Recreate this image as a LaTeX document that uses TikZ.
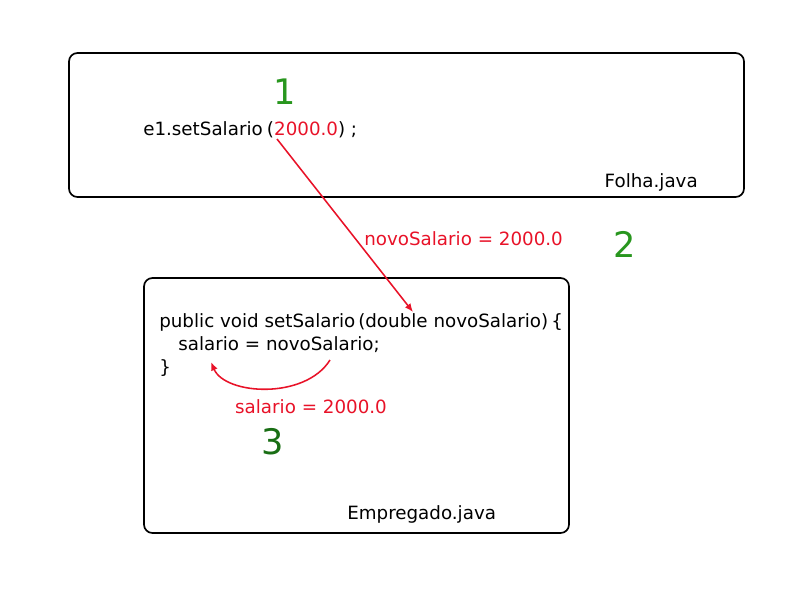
\documentclass[tikz,border=0pt]{standalone}
\usepackage{fontspec}
\setmainfont{DejaVu Sans}
\usetikzlibrary{positioning,arrows.meta}
\definecolor{cred}{RGB}{232,18,40}
\definecolor{cgreen}{RGB}{40,150,30}
\definecolor{cdgreen}{RGB}{25,110,20}
\tikzset{
  arquivo/.style={draw,line width=1.2pt,rounded corners=6pt},
  codigo/.style={anchor=west,inner sep=0pt,font=\fontsize{13}{15}\selectfont},
  valor/.style={text=cred,inner sep=0pt,font=\fontsize{13}{15}\selectfont},
  passo/.style={text=cgreen,inner sep=0pt,font=\fontsize{25}{28}\selectfont},
  chamada/.style={draw=cred,line width=1.1pt,-{Latex[length=6pt,width=5pt]}},
}
\begin{document}
\begin{tikzpicture}[x=0.025cm,y=-0.025cm]
\useasboundingbox (0,0) rectangle (800,600);
% arquivos
\draw[arquivo] (69,53) rectangle (744,197);
\draw[arquivo] (144,278) rectangle (569,533);
\node[codigo,anchor=east] (folha) at (698,182) {Folha.java};
\node[codigo] (empregado) at (347,514) {Empregado.java};

% chamada
\node[codigo] (call) at (143,130) {e1.setSalario\hspace{3pt}(\textcolor{cred}{2000.0})\hspace{4pt};};
\node[passo] (p1) at (285,92) {1};
\coordinate (arg) at (277,139);

% metodo
\node[codigo] (m1) at (159,322) {public void setSalario\hspace{2pt}(double novoSalario)\hspace{-2pt} \{};
\node[codigo] (m2) at (178,345) {salario = novoSalario;};
\node[codigo] (m3) at (159,368) {\}};
\coordinate (param) at (413,312);
\coordinate (atrib) at (330,360);
\coordinate (campo) at (211,362);

\node[valor,anchor=west] (v2) at (364,239) {novoSalario = 2000.0};
\node[passo] (p2) at (625,244) {2};
\node[valor] (v3) at (311,407) {salario = 2000.0};
\node[passo,text=cdgreen] (p3) at (273,442) {3};

\draw[chamada] (arg) -- (param);
\draw[chamada] (atrib) .. controls (305,400) and (225,395) .. (campo);
\end{tikzpicture}
\end{document}
